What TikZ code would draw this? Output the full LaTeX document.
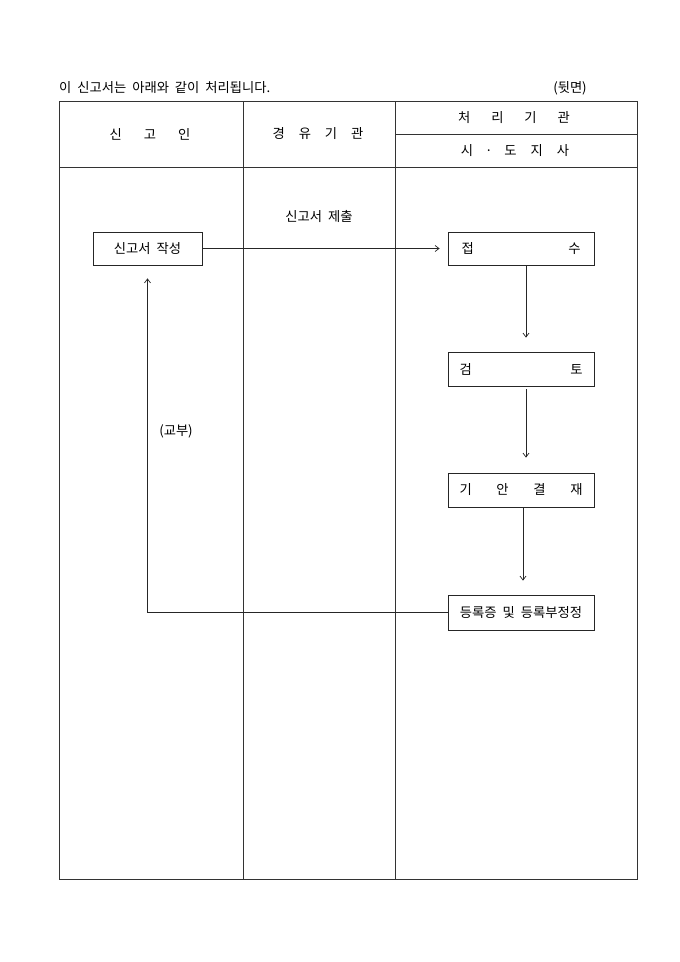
\documentclass[tikz,border=0pt]{standalone}
\usepackage{fontspec}
\setmainfont[WordSpace=2]{Noto Sans CJK KR}
\usetikzlibrary{arrows.meta}
\tikzset{
  frame/.style={line width=0.9pt, draw=black!80},
  procbox/.style={draw=black!85, line width=0.8pt, minimum height=33pt, inner sep=0pt, font=\fs},
  txt/.style={inner sep=0pt, font=\fs},
  flow/.style={draw=black!85, line width=0.7pt, -{Straight Barb[length=4pt,width=6pt]}},
}
\newcommand{\fs}{\fontsize{13.3}{16}\selectfont}
\begin{document}
\begin{tikzpicture}[x=1pt,y=-1pt]
\useasboundingbox (0,0) rectangle (680,962);
% table
\draw[frame] (59,101) rectangle (637,879);
\draw[frame] (243,101) -- (243,879);
\draw[frame] (395,101) -- (395,879);
\draw[frame] (59,167) -- (637,167);
\draw[frame] (395,134) -- (637,134);
% top texts
\node[txt, anchor=west] (title) at (59,88) {이 신고서는 아래와 같이 처리됩니다.};
\node[txt] (back) at (570,88) {(뒷면)};
% headers
\node[txt] (h1) at (150,134) {신\hspace{22pt}고\hspace{22pt}인};
\node[txt] (h2) at (318,134) {경\hspace{14pt}유\hspace{14pt}기\hspace{14pt}관};
\node[txt] (h3) at (514,117.5) {처\hspace{21pt}리\hspace{21pt}기\hspace{21pt}관};
\node[txt] (h4) at (515,150.5) {시\hspace{12pt}·\hspace{12pt}도\hspace{14pt}지\hspace{14pt}사};
% boxes
\node[procbox, minimum width=109pt] (write) at (147.5,248.5) {신고서 작성};
\node[procbox, minimum width=146pt] (recv) at (521,248.5) {\hbox to 119pt{접\hfill 수}};
\node[procbox, minimum width=146pt, minimum height=34pt] (review) at (521,369) {\hbox to 123pt{검\hfill 토}};
\node[procbox, minimum width=146pt, minimum height=34pt] (draft) at (521,490) {\hbox to 123pt{기\hfill 안\hfill 결\hfill 재}};
\node[procbox, minimum width=146pt, minimum height=35pt] (issue) at (521,612.5) {등록증 및 등록부정정};
% labels
\node[txt] (submit) at (319,216) {신고서 제출};
\node[txt] (give) at (176,431) {(교부)};
% connectors
\draw[flow, shorten >=8pt] (write.east) -- (recv.west);
\draw[flow, shorten >=14pt] ([xshift=5pt]recv.south) -- ([xshift=5pt]review.north);
\draw[flow, shorten <=3pt, shorten >=15pt] ([xshift=5pt]review.south) -- ([xshift=5pt]draft.north);
\draw[flow, shorten <=1pt, shorten >=14pt] ([xshift=2pt]draft.south) -- ([xshift=2pt]issue.north);
\draw[flow, shorten >=13pt] (issue.west) -| (write.south);
\end{tikzpicture}
\end{document}
